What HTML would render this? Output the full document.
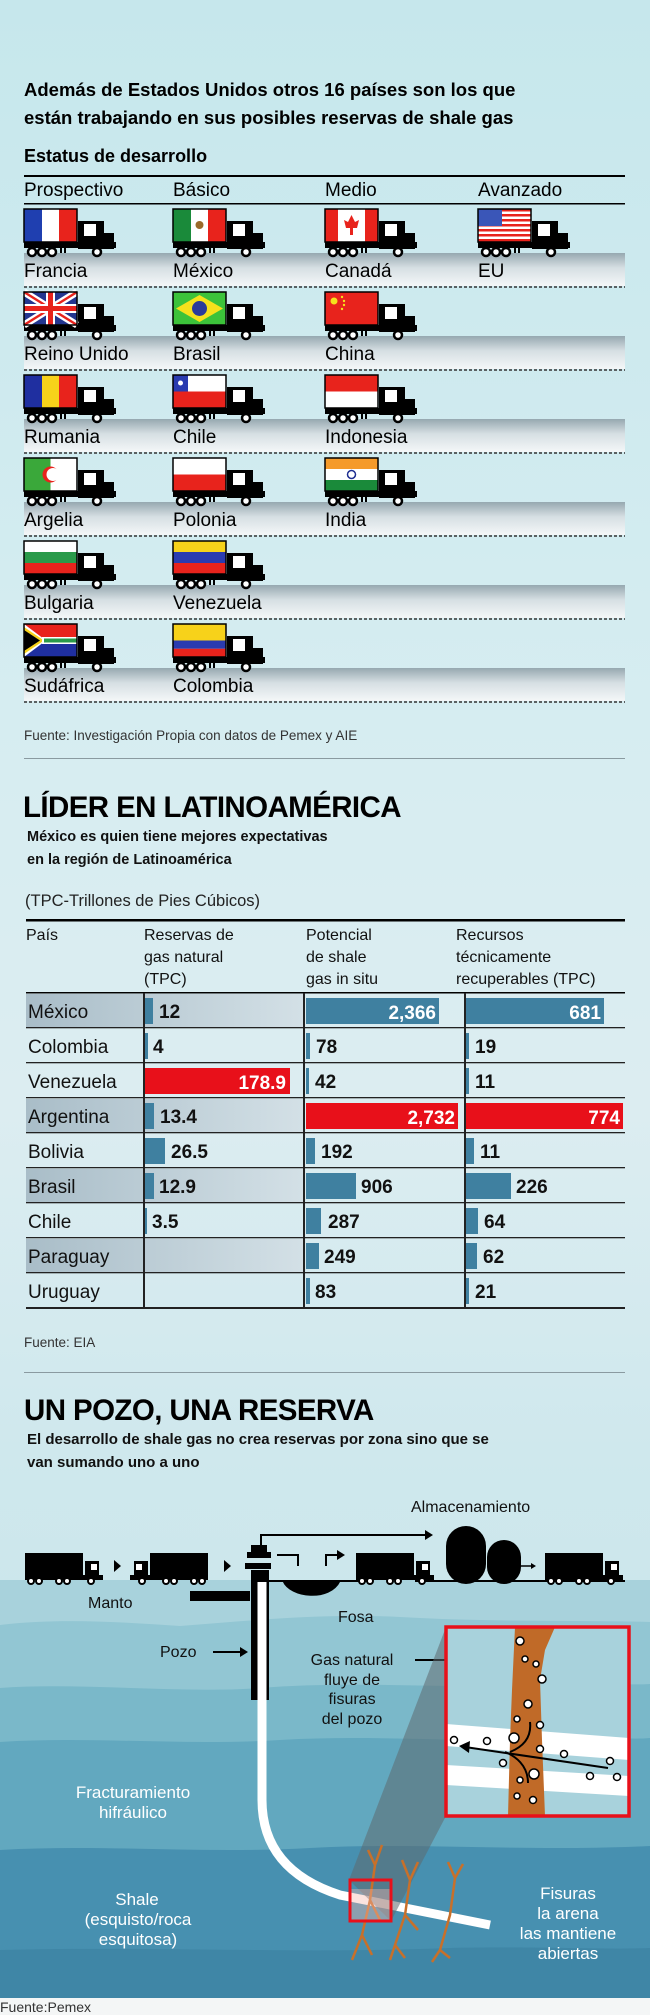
<!DOCTYPE html>
<html><head><meta charset="utf-8"><style>
html,body{margin:0;padding:0;width:650px;height:2015px;overflow:hidden;background:#d3ebef}
svg{display:block}
text{font-family:"Liberation Sans",Arial,sans-serif}
.b{font-weight:bold}
</style></head><body>
<svg width="650" height="2015" viewBox="0 0 650 2015" xmlns="http://www.w3.org/2000/svg">
<defs>
<linearGradient id="bg" x1="0" y1="0" x2="0" y2="1">
<stop offset="0" stop-color="#c6e7ec"/><stop offset="0.35" stop-color="#d6edf1"/><stop offset="0.55" stop-color="#dcedf1"/><stop offset="0.72" stop-color="#cfe8ed"/><stop offset="1" stop-color="#c4e3ea"/>
</linearGradient>
<linearGradient id="band" x1="0" y1="0" x2="0" y2="1">
<stop offset="0" stop-color="#96a8b0"/><stop offset="0.45" stop-color="#d6dfe3"/><stop offset="1" stop-color="#f4f7f8"/>
</linearGradient>
<linearGradient id="shade" x1="0" y1="0" x2="1" y2="0">
<stop offset="0" stop-color="#a9bdc8"/><stop offset="1" stop-color="#d3e0e6"/>
</linearGradient>
<g id="trk">
<rect x="54" y="12" width="26" height="28" fill="#000"/>
<rect x="60" y="15" width="12" height="12" fill="#fff"/>
<rect x="74" y="24" width="16" height="16" fill="#000"/>
<rect x="0" y="33" width="92" height="6" fill="#000"/>
<circle cx="8" cy="43" r="4" fill="#fff" stroke="#000" stroke-width="2.5"/>
<circle cx="18" cy="43" r="4" fill="#fff" stroke="#000" stroke-width="2.5"/>
<circle cx="28" cy="43" r="4" fill="#fff" stroke="#000" stroke-width="2.5"/>
<rect x="36" y="38" width="2" height="6" fill="#000"/><rect x="40" y="38" width="2" height="6" fill="#000"/>
<circle cx="73" cy="43" r="4" fill="#fff" stroke="#000" stroke-width="2.5"/>
</g>
<g id="bt">
<rect x="0" y="0" width="58" height="24" fill="#000"/>
<rect x="60" y="8" width="14" height="16" fill="#000"/>
<rect x="66" y="11" width="6" height="6" fill="#fff"/>
<rect x="0" y="22" width="78" height="5" fill="#000"/>
<circle cx="6" cy="28" r="3" fill="#fff" stroke="#000" stroke-width="2"/>
<circle cx="14" cy="28" r="3" fill="#fff" stroke="#000" stroke-width="2"/>
<circle cx="34" cy="28" r="3" fill="#fff" stroke="#000" stroke-width="2"/>
<circle cx="42" cy="28" r="3" fill="#fff" stroke="#000" stroke-width="2"/>
<circle cx="66" cy="28" r="3" fill="#fff" stroke="#000" stroke-width="2"/>
</g>
</defs>
<rect width="650" height="2015" fill="url(#bg)"/>

<!-- SECTION 1 -->
<text x="24" y="96" class="b" font-size="18.5">Además de Estados Unidos otros 16 países son los que</text>
<text x="24" y="124" class="b" font-size="18.5">están trabajando en sus posibles reservas de shale gas</text>
<text x="24" y="162" class="b" font-size="18">Estatus de desarrollo</text>
<rect x="24" y="175" width="601" height="2" fill="#000"/>
<text x="24" y="196" font-size="19">Prospectivo</text>
<text x="173" y="196" font-size="19">Básico</text>
<text x="325" y="196" font-size="19">Medio</text>
<text x="478" y="196" font-size="19">Avanzado</text>
<rect x="24" y="203" width="601" height="1.5" fill="#000"/>

<!-- bands -->
<g id="bands">
<rect x="24" y="253" width="601" height="33" fill="url(#band)"/>
<rect x="24" y="336" width="601" height="33" fill="url(#band)"/>
<rect x="24" y="419" width="601" height="33" fill="url(#band)"/>
<rect x="24" y="502" width="601" height="33" fill="url(#band)"/>
<rect x="24" y="585" width="601" height="33" fill="url(#band)"/>
<rect x="24" y="668" width="601" height="33" fill="url(#band)"/>
</g>
<g stroke="#333" stroke-width="1.5" stroke-dasharray="3,2">
<line x1="24" y1="287" x2="625" y2="287"/><line x1="24" y1="370" x2="625" y2="370"/>
<line x1="24" y1="453" x2="625" y2="453"/><line x1="24" y1="536" x2="625" y2="536"/>
<line x1="24" y1="619" x2="625" y2="619"/><line x1="24" y1="702" x2="625" y2="702"/>
</g>

<!-- row 1 -->
<g transform="translate(24,209)"><use href="#trk"/><rect x="0" y="0" width="18" height="33" fill="#1f3fb0"/><rect x="18" y="0" width="17" height="33" fill="#fff"/><rect x="35" y="0" width="18" height="33" fill="#e8231c"/><rect x="0" y="0" width="53" height="33" fill="none" stroke="#000" stroke-width="1.5"/></g>
<g transform="translate(173,209)"><use href="#trk"/><rect x="0" y="0" width="18" height="33" fill="#1a8a3a"/><rect x="18" y="0" width="17" height="33" fill="#fff"/><rect x="35" y="0" width="18" height="33" fill="#e8231c"/><circle cx="26.5" cy="16" r="4" fill="#9a6a2a"/><rect x="0" y="0" width="53" height="33" fill="none" stroke="#000" stroke-width="1.5"/></g>
<g transform="translate(325,209)"><use href="#trk"/><rect x="0" y="0" width="53" height="33" fill="#fff"/><rect x="0" y="0" width="13" height="33" fill="#e8231c"/><rect x="40" y="0" width="13" height="33" fill="#e8231c"/><path d="M26.5 6 L30 13 L34 11 L32 19 L28 19 L28 26 L25 26 L25 19 L21 19 L19 11 L23 13 Z" fill="#e8231c"/><rect x="0" y="0" width="53" height="33" fill="none" stroke="#000" stroke-width="1.5"/></g>
<g transform="translate(478,209)"><use href="#trk"/><rect x="0" y="0" width="53" height="33" fill="#fff"/>
<g fill="#e8231c"><rect y="0" width="53" height="2.5"/><rect y="5" width="53" height="2.5"/><rect y="10" width="53" height="2.5"/><rect y="15" width="53" height="2.5"/><rect y="20" width="53" height="2.5"/><rect y="25" width="53" height="2.5"/><rect y="30" width="53" height="3"/></g>
<rect x="0" y="0" width="24" height="17" fill="#3a56b8"/><rect x="0" y="0" width="53" height="33" fill="none" stroke="#000" stroke-width="1.5"/></g>
<text x="24" y="277" font-size="19">Francia</text><text x="173" y="277" font-size="19">México</text><text x="325" y="277" font-size="19">Canadá</text><text x="478" y="277" font-size="19">EU</text>

<!-- row 2 -->
<g transform="translate(24,292)"><use href="#trk"/><rect x="0" y="0" width="53" height="33" fill="#23368f"/><path d="M0 0L53 33M53 0L0 33" stroke="#fff" stroke-width="7"/><path d="M0 0L53 33M53 0L0 33" stroke="#e8231c" stroke-width="2.5"/><path d="M26.5 0V33M0 16.5H53" stroke="#fff" stroke-width="9"/><path d="M26.5 0V33M0 16.5H53" stroke="#e8231c" stroke-width="5"/><rect x="0" y="0" width="53" height="33" fill="none" stroke="#000" stroke-width="1.5"/></g>
<g transform="translate(173,292)"><use href="#trk"/><rect x="0" y="0" width="53" height="33" fill="#3cc23a"/><path d="M26.5 3L50 16.5L26.5 30L3 16.5Z" fill="#f5e11c"/><circle cx="26.5" cy="16.5" r="7.5" fill="#2a3b9a"/><rect x="0" y="0" width="53" height="33" fill="none" stroke="#000" stroke-width="1.5"/></g>
<g transform="translate(325,292)"><use href="#trk"/><rect x="0" y="0" width="53" height="33" fill="#e8231c"/><circle cx="9" cy="9" r="3.5" fill="#f5e11c"/><circle cx="17" cy="5" r="1.2" fill="#f5e11c"/><circle cx="19" cy="9" r="1.2" fill="#f5e11c"/><circle cx="19" cy="13" r="1.2" fill="#f5e11c"/><circle cx="17" cy="17" r="1.2" fill="#f5e11c"/><rect x="0" y="0" width="53" height="33" fill="none" stroke="#000" stroke-width="1.5"/></g>
<text x="24" y="360" font-size="19">Reino Unido</text><text x="173" y="360" font-size="19">Brasil</text><text x="325" y="360" font-size="19">China</text>

<!-- row 3 -->
<g transform="translate(24,375)"><use href="#trk"/><rect x="0" y="0" width="18" height="33" fill="#1f2fa0"/><rect x="18" y="0" width="17" height="33" fill="#f7d21a"/><rect x="35" y="0" width="18" height="33" fill="#e8231c"/><rect x="0" y="0" width="53" height="33" fill="none" stroke="#000" stroke-width="1.5"/></g>
<g transform="translate(173,375)"><use href="#trk"/><rect x="0" y="0" width="53" height="16.5" fill="#fff"/><rect x="0" y="16.5" width="53" height="16.5" fill="#e8231c"/><rect x="0" y="0" width="15" height="16.5" fill="#2a3bb0"/><circle cx="7.5" cy="8" r="2.5" fill="#fff"/><rect x="0" y="0" width="53" height="33" fill="none" stroke="#000" stroke-width="1.5"/></g>
<g transform="translate(325,375)"><use href="#trk"/><rect x="0" y="0" width="53" height="16.5" fill="#e8231c"/><rect x="0" y="16.5" width="53" height="16.5" fill="#fff"/><rect x="0" y="0" width="53" height="33" fill="none" stroke="#000" stroke-width="1.5"/></g>
<text x="24" y="443" font-size="19">Rumania</text><text x="173" y="443" font-size="19">Chile</text><text x="325" y="443" font-size="19">Indonesia</text>

<!-- row 4 -->
<g transform="translate(24,458)"><use href="#trk"/><rect x="0" y="0" width="26.5" height="33" fill="#3aa83a"/><rect x="26.5" y="0" width="26.5" height="33" fill="#fff"/><circle cx="26.5" cy="16.5" r="8" fill="#e8231c"/><circle cx="29" cy="16.5" r="6.5" fill="#fff"/><rect x="0" y="0" width="53" height="33" fill="none" stroke="#000" stroke-width="1.5"/></g>
<g transform="translate(173,458)"><use href="#trk"/><rect x="0" y="0" width="53" height="16.5" fill="#fff"/><rect x="0" y="16.5" width="53" height="16.5" fill="#e8231c"/><rect x="0" y="0" width="53" height="33" fill="none" stroke="#000" stroke-width="1.5"/></g>
<g transform="translate(325,458)"><use href="#trk"/><rect x="0" y="0" width="53" height="11" fill="#f59a2a"/><rect x="0" y="11" width="53" height="11" fill="#fff"/><rect x="0" y="22" width="53" height="11" fill="#1a8a3a"/><circle cx="26.5" cy="16.5" r="4" fill="none" stroke="#1f2f90" stroke-width="1.5"/><rect x="0" y="0" width="53" height="33" fill="none" stroke="#000" stroke-width="1.5"/></g>
<text x="24" y="526" font-size="19">Argelia</text><text x="173" y="526" font-size="19">Polonia</text><text x="325" y="526" font-size="19">India</text>

<!-- row 5 -->
<g transform="translate(24,541)"><use href="#trk"/><rect x="0" y="0" width="53" height="11" fill="#fff"/><rect x="0" y="11" width="53" height="11" fill="#2a9a4a"/><rect x="0" y="22" width="53" height="11" fill="#e8231c"/><rect x="0" y="0" width="53" height="33" fill="none" stroke="#000" stroke-width="1.5"/></g>
<g transform="translate(173,541)"><use href="#trk"/><rect x="0" y="0" width="53" height="11" fill="#f7d21a"/><rect x="0" y="11" width="53" height="11" fill="#2a3bb0"/><rect x="0" y="22" width="53" height="11" fill="#e8231c"/><rect x="0" y="0" width="53" height="33" fill="none" stroke="#000" stroke-width="1.5"/></g>
<text x="24" y="609" font-size="19">Bulgaria</text><text x="173" y="609" font-size="19">Venezuela</text>

<!-- row 6 -->
<g transform="translate(24,624)"><use href="#trk"/><rect x="0" y="0" width="53" height="16.5" fill="#e8231c"/><rect x="0" y="16.5" width="53" height="16.5" fill="#1f2fa0"/><path d="M0 0L22 16.5L0 33" fill="#fff"/><path d="M0 3L20 16.5L0 30" fill="#f7d21a"/><path d="M0 6L16 16.5L0 27Z" fill="#000"/><path d="M18 13H53V20H18Z" fill="#fff"/><path d="M20 14.5H53V18.5H20Z" fill="#2a9a4a"/><rect x="0" y="0" width="53" height="33" fill="none" stroke="#000" stroke-width="1.5"/></g>
<g transform="translate(173,624)"><use href="#trk"/><rect x="0" y="0" width="53" height="16.5" fill="#f7d21a"/><rect x="0" y="16.5" width="53" height="8.25" fill="#2a3bb0"/><rect x="0" y="24.75" width="53" height="8.25" fill="#e8231c"/><rect x="0" y="0" width="53" height="33" fill="none" stroke="#000" stroke-width="1.5"/></g>
<text x="24" y="692" font-size="19">Sudáfrica</text><text x="173" y="692" font-size="19">Colombia</text>

<text x="24" y="740" font-size="13.5" fill="#333">Fuente: Investigación Propia con datos de Pemex y AIE</text>
<rect x="24" y="758" width="601" height="1" fill="#8a9aa0"/>

<!-- SECTION 2 -->
<text x="23" y="817" class="b" font-size="29.5" letter-spacing="-0.6">LÍDER EN LATINOAMÉRICA</text>
<text x="27" y="841" class="b" font-size="14.5" fill="#111">México es quien tiene mejores expectativas</text>
<text x="27" y="864" class="b" font-size="14.5" fill="#111">en la región de Latinoamérica</text>
<text x="25" y="906" font-size="16.5" fill="#222">(TPC-Trillones de Pies Cúbicos)</text>
<rect x="26" y="919" width="599" height="2.5" fill="#000"/>
<g font-size="16" fill="#111">
<text x="26" y="940">País</text>
<text x="144" y="940">Reservas de</text><text x="144" y="962">gas natural</text><text x="144" y="984">(TPC)</text>
<text x="306" y="940">Potencial</text><text x="306" y="962">de shale</text><text x="306" y="984">gas in situ</text>
<text x="456" y="940">Recursos</text><text x="456" y="962">técnicamente</text><text x="456" y="984">recuperables (TPC)</text>
</g>
<rect x="26" y="992" width="599" height="1.5" fill="#000"/>
<!-- shaded rows -->
<rect x="26" y="994" width="277" height="33" fill="url(#shade)"/>
<rect x="26" y="1099" width="277" height="33" fill="url(#shade)"/>
<rect x="26" y="1169" width="277" height="33" fill="url(#shade)"/>
<rect x="26" y="1239" width="277" height="33" fill="url(#shade)"/>
<g fill="#222">
<rect x="26" y="1027" width="599" height="1.3"/><rect x="26" y="1062" width="599" height="1.3"/><rect x="26" y="1097" width="599" height="1.3"/><rect x="26" y="1132" width="599" height="1.3"/><rect x="26" y="1167" width="599" height="1.3"/><rect x="26" y="1202" width="599" height="1.3"/><rect x="26" y="1237" width="599" height="1.3"/><rect x="26" y="1272" width="599" height="1.3"/><rect x="26" y="1307" width="599" height="2"/>
<rect x="143" y="993" width="2" height="315"/><rect x="303" y="993" width="2" height="315"/><rect x="464" y="993" width="2" height="315"/>
</g>
<g font-size="19" fill="#111">
<text x="28" y="1018">México</text><text x="28" y="1053">Colombia</text><text x="28" y="1088">Venezuela</text><text x="28" y="1123">Argentina</text><text x="28" y="1158">Bolivia</text><text x="28" y="1193">Brasil</text><text x="28" y="1228">Chile</text><text x="28" y="1263">Paraguay</text><text x="28" y="1298">Uruguay</text>
</g>
<!-- bars -->
<g fill="#3f80a0">
<rect x="145" y="998" width="8" height="26"/><rect x="145" y="1033" width="3" height="26"/><rect x="145" y="1103" width="9" height="26"/><rect x="145" y="1138" width="20" height="26"/><rect x="145" y="1173" width="9" height="26"/><rect x="145" y="1208" width="2" height="26"/>
<rect x="306" y="998" width="133" height="26"/><rect x="306" y="1033" width="4" height="26"/><rect x="306" y="1068" width="3" height="26"/><rect x="306" y="1138" width="9" height="26"/><rect x="306" y="1173" width="50" height="26"/><rect x="306" y="1208" width="15" height="26"/><rect x="306" y="1243" width="13" height="26"/><rect x="306" y="1278" width="4" height="26"/>
<rect x="466" y="998" width="138" height="26"/><rect x="466" y="1033" width="3" height="26"/><rect x="466" y="1068" width="3" height="26"/><rect x="466" y="1138" width="8" height="26"/><rect x="466" y="1173" width="45" height="26"/><rect x="466" y="1208" width="12" height="26"/><rect x="466" y="1243" width="11" height="26"/><rect x="466" y="1278" width="3" height="26"/>
</g>
<g fill="#e8101a">
<rect x="145" y="1068" width="145" height="26"/><rect x="306" y="1103" width="152" height="26"/><rect x="466" y="1103" width="157" height="26"/>
</g>
<g class="b" font-size="19" fill="#111">
<text x="159" y="1018">12</text><text x="153" y="1053">4</text><text x="160" y="1123">13.4</text><text x="171" y="1158">26.5</text><text x="159" y="1193">12.9</text><text x="152" y="1228">3.5</text>
<text x="316" y="1053">78</text><text x="315" y="1088">42</text><text x="321" y="1158">192</text><text x="361" y="1193">906</text><text x="328" y="1228">287</text><text x="324" y="1263">249</text><text x="315" y="1298">83</text>
<text x="475" y="1053">19</text><text x="475" y="1088">11</text><text x="480" y="1158">11</text><text x="516" y="1193">226</text><text x="484" y="1228">64</text><text x="483" y="1263">62</text><text x="475" y="1298">21</text>
</g>
<g class="b" font-size="19" fill="#fff" text-anchor="end">
<text x="436" y="1019">2,366</text><text x="601" y="1019">681</text><text x="286" y="1089">178.9</text><text x="455" y="1124">2,732</text><text x="620" y="1124">774</text>
</g>
<text x="24" y="1347" font-size="13.5" fill="#333">Fuente: EIA</text>
<rect x="24" y="1372" width="601" height="1" fill="#8a9aa0"/>

<!-- SECTION 3 -->
<text x="24" y="1420" class="b" font-size="29.5" letter-spacing="-0.6">UN POZO, UNA RESERVA</text>
<text x="27" y="1444" class="b" font-size="15" fill="#111">El desarrollo de shale gas no crea reservas por zona sino que se</text>
<text x="27" y="1467" class="b" font-size="15" fill="#111">van sumando uno a uno</text>

<!-- ground layers -->
<path d="M0 1580 H650 V1998 H0Z" fill="#a8d2dc"/>
<path d="M0 1625 C60 1618 120 1622 180 1626 C260 1620 330 1612 420 1618 C500 1622 580 1620 650 1622 V1998 H0Z" fill="#92c6d3"/>
<path d="M0 1688 C80 1682 180 1694 260 1688 C360 1680 450 1690 540 1684 C590 1680 620 1686 650 1684 V1998 H0Z" fill="#7ab8c9"/>
<path d="M0 1742 C90 1736 180 1746 280 1740 C380 1734 470 1744 560 1738 C600 1736 630 1740 650 1738 V1998 H0Z" fill="#62a8bf"/>
<path d="M0 1850 C100 1844 200 1854 310 1848 C420 1842 520 1852 650 1846 V1998 H0Z" fill="#4790b0"/>
<path d="M0 1950 C150 1946 300 1954 450 1948 C540 1946 600 1950 650 1948 V1998 H0Z" fill="#3f86a6"/>
<rect x="0" y="1998" width="650" height="17" fill="#f4f6f6"/>

<!-- ground line -->
<path d="M190 1591 H250 V1601 H190Z" fill="#000"/>
<path d="M268 1581 H370 M415 1581 H625" stroke="#000" stroke-width="2"/>
<path d="M283 1581 C290 1598 330 1602 340 1581" fill="#000" stroke="#000"/>

<!-- well -->
<rect x="251" y="1570" width="18" height="130" fill="#000"/>
<rect x="247" y="1552" width="24" height="6" fill="#000"/><rect x="251" y="1545" width="16" height="8" fill="#000"/><rect x="245" y="1563" width="26" height="6" fill="#000"/>
<path d="M262 1582 V1800 Q262 1870 340 1895 L490 1925" stroke="#fff" stroke-width="9" fill="none"/>
<!-- pipes above ground -->
<path d="M261 1545 V1535 H430" stroke="#000" stroke-width="2" fill="none"/><path d="M425 1530 L433 1535 L425 1540Z" fill="#000"/>
<path d="M277 1555 H298 V1566" stroke="#000" stroke-width="2" fill="none"/>
<path d="M326 1566 V1555 H340" stroke="#000" stroke-width="2" fill="none"/><path d="M337 1550 L345 1555 L337 1560Z" fill="#000"/>

<!-- trucks -->
<use href="#bt" x="25" y="1553"/>
<use href="#bt" transform="translate(208,1553) scale(-1,1)"/>
<use href="#bt" x="356" y="1553"/>
<use href="#bt" x="545" y="1553"/>
<path d="M114 1560 L121 1566 L114 1572Z" fill="#000"/><path d="M224 1560 L231 1566 L224 1572Z" fill="#000"/>
<!-- tanks -->
<rect x="446" y="1526" width="40" height="58" rx="20" fill="#000"/>
<rect x="487" y="1540" width="34" height="44" rx="17" fill="#000"/>
<path d="M520 1566 H533" stroke="#000" stroke-width="1.5"/><path d="M531 1563 L536 1566 L531 1569Z" fill="#000"/>
<text x="411" y="1512" font-size="16" fill="#111">Almacenamiento</text>

<text x="88" y="1608" font-size="16" fill="#111">Manto</text>
<text x="338" y="1622" font-size="16" fill="#111">Fosa</text>
<text x="160" y="1657" font-size="16" fill="#111">Pozo</text>
<path d="M213 1652 H243" stroke="#000" stroke-width="2"/><path d="M240 1647 L248 1652 L240 1657Z" fill="#000"/>
<g font-size="16" fill="#111" text-anchor="middle">
<text x="352" y="1665">Gas natural</text><text x="352" y="1685">fluye de</text><text x="352" y="1704">fisuras</text><text x="352" y="1724">del pozo</text>
</g>
<path d="M415 1660 H497" stroke="#000" stroke-width="2"/><path d="M494 1655 L503 1660 L494 1665Z" fill="#000"/>

<!-- zoom cone -->
<path d="M349 1880 L446 1627 L446 1816 L391 1921Z" fill="#5c6a70" opacity="0.55"/>
<!-- fissures -->
<g stroke="#c8702a" stroke-width="2.5" fill="none">
<path d="M375 1865 L370 1900 L362 1935 L352 1960 M362 1935 L372 1955 M370 1900 L380 1920 M375 1865 L368 1850 M375 1865 L382 1845"/>
<path d="M410 1880 L405 1915 L395 1945 L390 1960 M395 1945 L405 1958 M410 1880 L402 1860 M410 1880 L418 1862 M405 1915 L418 1930"/>
<path d="M455 1878 L450 1915 L440 1950 L432 1962 M440 1950 L450 1958 M455 1878 L448 1862 M455 1878 L463 1864"/>
</g>
<rect x="349" y="1889" width="42" height="32" fill="#f4b8b0" opacity="0.4"/>
<rect x="350" y="1880" width="41" height="41" fill="none" stroke="#e8101a" stroke-width="3"/>

<!-- inset -->
<rect x="446" y="1627" width="183" height="189" fill="#a8d2dc"/>
<path d="M446 1724 L629 1738 L629 1760 L446 1746Z" fill="#fff"/>
<path d="M446 1765 L629 1776 L629 1796 L446 1785Z" fill="#fff"/>
<path d="M515 1627 H540 L548 1627 L555 1627 L545 1650 L540 1680 L542 1740 L545 1816 H508 L510 1740 L512 1690 Z" fill="#c06a28"/>
<g fill="#fff" stroke="#000" stroke-width="1.5">
<circle cx="520" cy="1641" r="4"/><circle cx="525" cy="1659" r="3"/><circle cx="536" cy="1664" r="3"/><circle cx="542" cy="1679" r="4"/><circle cx="528" cy="1704" r="4"/><circle cx="517" cy="1719" r="3"/><circle cx="540" cy="1725" r="3.5"/><circle cx="454" cy="1740" r="3.5"/><circle cx="487" cy="1741" r="3.5"/><circle cx="514" cy="1738" r="5"/><circle cx="540" cy="1749" r="3.5"/><circle cx="564" cy="1754" r="3.5"/><circle cx="503" cy="1763" r="3.5"/><circle cx="534" cy="1774" r="5"/><circle cx="520" cy="1780" r="3"/><circle cx="610" cy="1761" r="3.5"/><circle cx="590" cy="1776" r="3.5"/><circle cx="617" cy="1777" r="3.5"/><circle cx="517" cy="1796" r="3"/><circle cx="533" cy="1800" r="3.5"/>
</g>
<path d="M608 1768 L465 1747" stroke="#000" stroke-width="2" fill="none"/><path d="M470 1741 L459 1746 L469 1753Z" fill="#000"/>
<path d="M530 1722 C532 1740 520 1748 510 1752 M528 1783 C528 1765 515 1756 505 1752" stroke="#000" stroke-width="2" fill="none"/>
<rect x="446" y="1627" width="183" height="189" fill="none" stroke="#e8101a" stroke-width="3.5"/>

<g font-size="17" fill="#fff" text-anchor="middle">
<text x="133" y="1798">Fracturamiento</text><text x="133" y="1818">hifráulico</text>
<text x="137" y="1905">Shale</text><text x="138" y="1925">(esquisto/roca</text><text x="138" y="1945">esquitosa)</text>
<text x="568" y="1899">Fisuras</text><text x="568" y="1919">la arena</text><text x="568" y="1939">las mantiene</text><text x="568" y="1959">abiertas</text>
</g>
<text x="0" y="2012" font-size="14" fill="#333">Fuente:Pemex</text>
</svg>
</body></html>
